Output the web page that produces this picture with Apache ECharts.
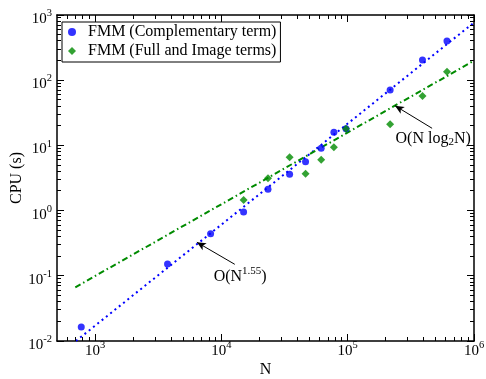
<!DOCTYPE html>
<html>
<head>
<meta charset="utf-8">
<script src="https://cdn.jsdelivr.net/npm/echarts@6/dist/echarts.min.js"></script>
<style>html,body{margin:0;padding:0;background:#fff}#c{width:486px;height:379px}</style>
</head>
<body>
<div id="c"></div>
<script>
// Data
const nValues = [778, 3750, 8220, 15000, 23400, 34700, 46400, 61700, 77800, 97000, 216800, 391000, 611000];
const cpuComplementary = [0.0164, 0.152, 0.44, 0.95, 2.12, 3.6, 5.62, 9.03, 15.9, 18.0, 70.8, 204, 399];
const nFull = [15000, 23400, 34700, 46400, 61700, 77800, 97000, 216800, 391000, 611000];
const cpuFull = [1.45, 3.13, 6.57, 3.68, 6.04, 9.35, 18.0, 21.1, 57.2, 135];
// guide lines (endpoints)
const fitPowN = [706, 1000000];
const fitPowCPU = [0.01, 766];
const fitNlogN_N = [698, 1000000];
const fitNlogN_CPU = [0.0667, 199];
// annotation arrows [tail, tip] and label anchors
const arrowPow = [[12770, 0.150], [6400, 0.327]];
const arrowNlogN = [[466000, 18.3], [237000, 40.6]];
const labelPowPos = [14090, 0.0975];
const labelNlogNPos = [475000, 12.85];
// axis ranges and ticks
const xRange = [500, 1000000];
const yRange = [0.01, 1000];
const xMajorTicks = [1000, 10000, 100000, 1000000];
const yMajorTicks = [0.01, 0.1, 1, 10, 100, 1000];
const minorMultipliers = [2, 3, 4, 5, 6, 7, 8, 9];
const xDecades = [100, 1000, 10000, 100000];
const yDecades = [0.01, 0.1, 1, 10, 100];

const xMinor = [];
xDecades.forEach(d => minorMultipliers.forEach(k => { const v = +(d * k).toPrecision(6); if (v > xRange[0] && v < xRange[1]) xMinor.push(v); }));
const yMinor = [];
yDecades.forEach(d => minorMultipliers.forEach(k => { const v = +(d * k).toPrecision(6); if (v > yRange[0] && v < yRange[1]) yMinor.push(v); }));

const FONT = 'Liberation Serif';
const black = '#000';
const BLUE = '#0000ff';
const GREEN = '#008b00';

function expLabel(v) {
  const e = Math.round(Math.log10(v));
  return '{b|10}{sup|' + e + '}';
}
const richAxis = {
  b: { fontSize: 15, fontFamily: FONT, color: black, lineHeight: 16 },
  sup: { fontSize: 10.5, fontFamily: FONT, color: black, lineHeight: 16, padding: [0, 0, 11, 0] }
};

function makeAxis(kind, pos, showLabels, range) {
  return {
    type: 'log',
    logBase: 10,
    position: pos,
    min: range[0], max: range[1],
    axisLine: { show: true, onZero: false, lineStyle: { color: black, width: 1.5 } },
    splitLine: { show: false },
    axisTick: { show: false },
    minorTick: { show: false },
    axisLabel: showLabels ? {
      show: true, customValues: kind === 'x' ? xMajorTicks : yMajorTicks,
      formatter: expLabel,
      margin: kind === 'x' ? 2 : 5,
      padding: kind === 'x' ? 0 : [8, 0, 0, 0],
      rich: richAxis
    } : { show: false },
    name: showLabels ? (kind === 'x' ? 'N' : 'CPU (s)') : '',
    nameLocation: 'middle',
    nameMoveOverlap: false,
    nameGap: kind === 'x' ? 21 : 32,
    nameTextStyle: { fontFamily: FONT, fontSize: 16, color: black }
  };
}

const chart = echarts.init(document.getElementById('c'), null, { renderer: 'canvas' });

const option = {
  animation: false,
  backgroundColor: '#fff',
  grid: { left: 57, right: 12, top: 15, bottom: 38, containLabel: false, outerBoundsMode: 'none' },
  xAxis: [makeAxis('x', 'bottom', true, xRange), makeAxis('x', 'top', false, xRange)],
  yAxis: [makeAxis('y', 'left', true, yRange), makeAxis('y', 'right', false, yRange)],
  legend: {
    orient: 'vertical',
    left: 62, top: 22,
    padding: [2, 4, 3, 6],
    itemGap: 3,
    itemWidth: 8, itemHeight: 8,
    borderColor: black, borderWidth: 1, borderRadius: 0,
    backgroundColor: '#fff',
    textStyle: { fontFamily: FONT, fontSize: 16, color: black, padding: [0, 0, 0, 7] },
    data: [
      { name: 'FMM (Complementary term)', icon: 'circle' },
      { name: 'FMM (Full and Image terms)', icon: 'diamond' }
    ]
  },
  series: [
    {
      name: 'fitPow', type: 'line', showSymbol: false, symbol: 'none', silent: true,
      data: fitPowN.map((n, i) => [n, fitPowCPU[i]]),
      lineStyle: { color: BLUE, width: 2, type: [2, 3.5] },
      z: 2
    },
    {
      name: 'fitNlogN', type: 'line', showSymbol: false, symbol: 'none', silent: true,
      data: fitNlogN_N.map((n, i) => [n, fitNlogN_CPU[i]]),
      lineStyle: { color: GREEN, width: 2, type: [6, 3, 1.5, 3] },
      z: 2,
      markLine: {
        silent: true, symbol: ['none', 'arrow'], symbolSize: [6, 9],
        lineStyle: { color: black, width: 1, type: 'solid' },
        label: { show: false },
        data: [
          [{ coord: arrowPow[0] }, { coord: arrowPow[1] }],
          [{ coord: arrowNlogN[0] }, { coord: arrowNlogN[1] }]
        ]
      },
      markPoint: {
        silent: true, symbol: 'circle', symbolSize: 0,
        label: {
          show: true, position: 'inside',
          formatter: p => p.name === 'pow' ? '{b|O(N}{sup|1.55}{b|)}' : '{b|O(N log}{sub|2}{b|N)}',
          rich: {
            b: { fontSize: 16, fontFamily: FONT, color: black, lineHeight: 16 },
            sup: { fontSize: 11, fontFamily: FONT, color: black, lineHeight: 16, padding: [0, 0, 11, 0] },
            sub: { fontSize: 11, fontFamily: FONT, color: black, lineHeight: 16, padding: [8, 0, 0, 0] }
          }
        },
        data: [
          { name: 'pow', coord: labelPowPos },
          { name: 'nlogn', coord: labelNlogNPos }
        ]
      }
    },
    {
      name: 'FMM (Complementary term)', type: 'scatter', symbol: 'circle', symbolSize: 7,
      data: nValues.map((n, i) => [n, cpuComplementary[i]]),
      itemStyle: { color: BLUE }, z: 5
    },
    {
      name: 'FMM (Full and Image terms)', type: 'scatter', symbol: 'diamond', symbolSize: 8,
      data: nFull.map((n, i) => [n, cpuFull[i]]),
      itemStyle: { color: GREEN }, z: 5
    }
  ]
};
chart.setOption(option);

// ticks placed through the library's scale (convertToPixel), drawn as crisp filled rects
function tickGraphics() {
  const els = [];
  const finder = { xAxisIndex: 0, yAxisIndex: 0 };
  function xt(v, len, w) {
    const b = chart.convertToPixel(finder, [v, yRange[0]]);
    const t = chart.convertToPixel(finder, [v, yRange[1]]);
    const x = Math.round(b[0] - w / 2);
    els.push({ type: 'rect', silent: true, z: 100, shape: { x: x, y: Math.round(b[1]) - len, width: w, height: len }, style: { fill: black } });
    els.push({ type: 'rect', silent: true, z: 100, shape: { x: x, y: Math.round(t[1]), width: w, height: len }, style: { fill: black } });
  }
  function yt(v, len, w) {
    const l = chart.convertToPixel(finder, [xRange[0], v]);
    const r = chart.convertToPixel(finder, [xRange[1], v]);
    const y = Math.round(l[1] - w / 2);
    els.push({ type: 'rect', silent: true, z: 100, shape: { x: Math.round(l[0]), y: y, width: len, height: w }, style: { fill: black } });
    els.push({ type: 'rect', silent: true, z: 100, shape: { x: Math.round(r[0]) - len, y: y, width: len, height: w }, style: { fill: black } });
  }
  xMajorTicks.forEach(v => xt(v, 7, 1));
  xMinor.forEach(v => xt(v, 4, 1));
  yMajorTicks.forEach(v => yt(v, 7, 1));
  yMinor.forEach(v => yt(v, 4, 1));
  return els;
}
chart.setOption({ graphic: tickGraphics() });
</script>
</body>
</html>
